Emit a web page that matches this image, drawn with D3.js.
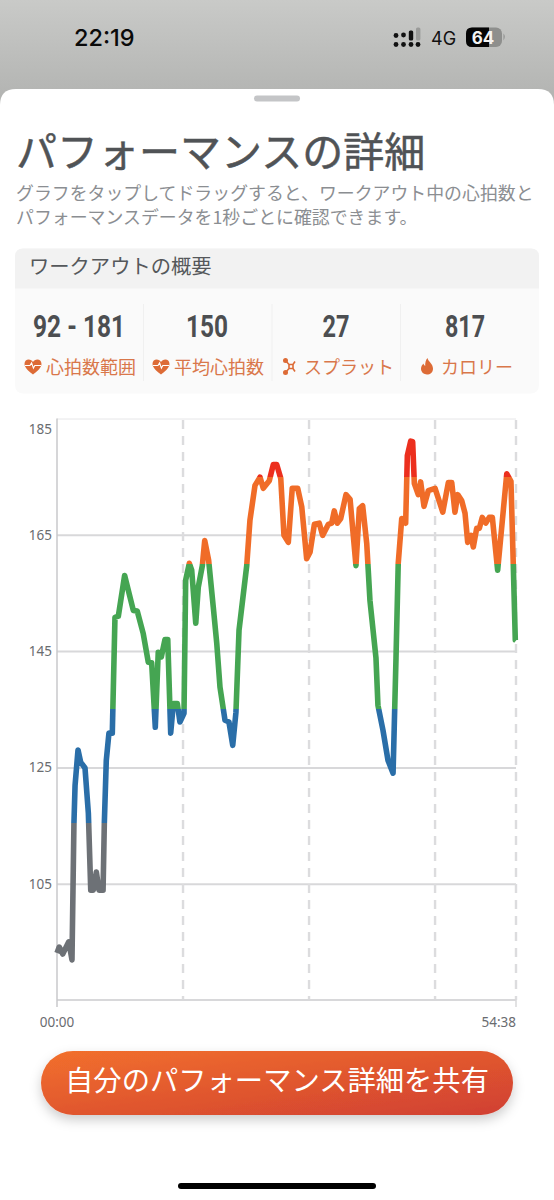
<!DOCTYPE html>
<html lang="ja"><head><meta charset="utf-8">
<script src="https://cdn.jsdelivr.net/npm/d3@7/dist/d3.min.js"></script>
<style>html,body{margin:0;padding:0;background:#fff}svg{display:block}
text{font-family:"Noto Sans CJK JP","Noto Sans",sans-serif}</style></head><body>
<svg id="c" width="554" height="1200" viewBox="0 0 554 1200"></svg>
<script>
// Elapsed time (seconds) and heart rate (bpm)
const seconds=[0,16,41,84,107,121,129,150,169,200,224,241,259,281,300,329,338,352,371,395,414,438,483,545,573,616,652,676,702,723,745,771,791,812,831,859,878,907,919,945,962,991,1009,1038,1055,1083,1116,1141,1164,1200,1228,1255,1278,1300,1355,1378,1414,1450,1473,1516,1545,1569,1598,1621,1652,1680,1719,1748,1783,1807,1838,1873,1897,1938,1962,1980,2002,2026,2064,2093,2135,2159,2183,2212,2235,2278,2292,2328,2364,2400,2421,2437,2462,2490,2502,2526,2540,2552,2580,2597,2621,2652,2700,2755,2795,2819,2842,2862,2890,2914,2933,2957,2973,2997,3016,3037,3062,3087,3109,3147,3212,3242,3259,3273,3278];
const bpm=[93.1,94.1,92.9,95,91.9,115.4,121.9,128,125.9,124.9,117.1,103.9,103.9,107,103.9,103.9,115.4,126.2,130.9,130.9,150.8,151,158,152,151.9,148,143.1,143,131.9,144.8,144,147,147,130.9,136,136,132.8,134.3,157.2,160.1,158.9,149.8,156,159.7,164,160.6,152.6,146.3,138.8,133.1,132.8,128.8,134.5,148.6,159.7,167.5,173.5,174.9,173,174.3,177.1,177.1,174.7,164.9,163.7,173,173,169.8,160.9,162,166.8,167,164.9,166.8,167,169.1,167,167.8,171.9,171.1,159.7,169.5,170,163.5,153.7,143.8,135.7,131.4,126.2,124,143.8,160.1,167.8,167,178.6,181.1,181,173.8,171.9,174.1,169.9,172.6,173,168.9,174,174,168.9,171.9,170.9,168.7,163.7,164.9,162.9,166.1,166.1,168,167,168,168,158.9,175.5,174.2,159.5,146.9,146.8];
const yTicks=[105,125,145,165,185];
const dashedSeconds=[900,1800,2700,3278];
const xLabels=["00:00","54:38"];
const zoneLimits=[115.5,135,160,175];
const zoneColors=["#6d7176","#2a6ea8","#45a552","#f06c28","#ec2f1e"];
const totalSeconds=3278;

const summaryValues=["92 - 181","150","27","817"];
const summaryLabels=["心拍数範囲","平均心拍数","スプラット","カロリー"];

const svg=d3.select("#c");
const defs=svg.append("defs");

// backdrop
const bg=defs.append("linearGradient").attr("id","bg").attr("x1",0).attr("x2",0).attr("y1",0).attr("y2",1);
bg.append("stop").attr("offset",0).attr("stop-color","#c9cac8");
bg.append("stop").attr("offset",1).attr("stop-color","#b0b1af");
svg.append("rect").attr("width",554).attr("height",110).attr("fill","url(#bg)");
svg.append("path").attr("d","M0 1200V105Q0 89 16 89H538Q554 89 554 105V1200Z").attr("fill","#fff");
svg.append("rect").attr("x",254).attr("y",95.5).attr("width",46).attr("height",6).attr("rx",3).attr("fill","#c4c5c7");

// status bar
svg.append("text").attr("x",74).attr("y",45.5).attr("font-size",23.5).attr("font-weight",500).attr("fill","#0a0a0a").style("font-family","Inter,Roboto,sans-serif").text("22:19");
[[396,35.5],[396,44.5],[403.5,35],[403.5,44.5],[411,44.5],[418,44.5]].forEach(p=>svg.append("circle").attr("cx",p[0]).attr("cy",p[1]).attr("r",2.4).attr("fill","#111"));
svg.append("rect").attr("x",408.8).attr("y",30.5).attr("width",4.4).attr("height",10).attr("rx",1.6).attr("fill","#111");
svg.append("rect").attr("x",416).attr("y",27.5).attr("width",4.4).attr("height",13).attr("rx",1.6).attr("fill","#9a9b99");
svg.append("text").attr("x",431).attr("y",44.5).attr("font-size",18).attr("fill","#111").style("font-family","Inter,Roboto,sans-serif").text("4G");
svg.append("rect").attr("x",466).attr("y",27.5).attr("width",36).attr("height",19.5).attr("rx",6).attr("fill","#8e8f8d");
svg.append("path").attr("d","M472 27.5H489V47H472Q466 47 466 41V33.5Q466 27.5 472 27.5Z").attr("fill","#050505");
svg.append("path").attr("d","M503.5 33.5Q506 36.5 503.5 40.5Z").attr("fill","#8e8f8d");
svg.append("text").attr("x",483).attr("y",43.5).attr("text-anchor","middle").attr("font-size",17).attr("font-weight",700).attr("fill","#f3f3f3").style("font-family","Inter,Roboto,sans-serif").text("64");

// heading
svg.append("text").attr("x",16).attr("y",167).attr("font-size",41).attr("fill","#505356").attr("stroke","#505356").attr("stroke-width",0.5).text("パフォーマンスの詳細");
svg.append("text").attr("x",16).attr("y",199.5).attr("font-size",17.9).attr("fill","#8b8e92").text("グラフをタップしてドラッグすると、ワークアウト中の心拍数と");
svg.append("text").attr("x",16).attr("y",223.5).attr("font-size",17.9).attr("fill","#8b8e92").text("パフォーマンスデータを1秒ごとに確認できます。");

// summary card
svg.append("rect").attr("x",15).attr("y",248.5).attr("width",524).attr("height",145).attr("rx",8).attr("fill","#fafafa");
svg.append("path").attr("d","M15 288.5V256.5Q15 248.5 23 248.5H531Q539 248.5 539 256.5V288.5Z").attr("fill","#f2f2f2");
svg.append("text").attr("x",29).attr("y",274).attr("font-size",20.3).attr("fill","#55585b").text("ワークアウトの概要");
const centers=[79,207,336,465], numW=[92,42,27,40], labelX=[46,174,304,441], iconX=[33,161,291,427];
[143.5,272,400.5].forEach(x=>svg.append("line").attr("x1",x).attr("x2",x).attr("y1",304).attr("y2",381).attr("stroke","#f0f0f0").attr("stroke-width",1));
summaryValues.forEach((v,i)=>{
  svg.append("text").attr("x",centers[i]-numW[i]/2).attr("y",337).attr("font-size",32).attr("font-weight",700)
    .attr("fill","#4c4e51").style("font-family","Roboto,sans-serif")
    .attr("textLength",numW[i]).attr("lengthAdjust","spacingAndGlyphs").text(v);
  svg.append("text").attr("x",labelX[i]).attr("y",373.5).attr("font-size",18).attr("fill","#d9774a").text(summaryLabels[i]);
});
const iconC="#dd6b36";
iconX.slice(0,2).forEach(x=>{
  const g=svg.append("g").attr("transform",`translate(${x},366.5)`);
  g.append("path").attr("d","M0 8C-3 5.5-8.5 1.5-8.5-2.6C-8.5-5.5-6.5-7-4.4-7C-2.4-7-.9-5.8 0-4.5C.9-5.8 2.4-7 4.4-7C6.5-7 8.5-5.5 8.5-2.6C8.5 1.5 3 5.5 0 8Z").attr("fill",iconC);
  g.append("path").attr("d","M-8 -1H-3L-1.4-3.6L.4 1.6L1.8-1H8").attr("fill","none").attr("stroke","#fff").attr("stroke-width",1.1);
});
const sp=svg.append("g").attr("transform","translate(291,366.5)").attr("stroke",iconC).attr("fill","none").attr("stroke-width",1.6);
sp.append("path").attr("d","M-5-5.5L-2-2L2-2L4-5M-5 5.5L-2 2L2 2L4 5M-2-2L-2 2M2-2L2 2");
[[-5.5,-6],[-5.5,6]].forEach(p=>sp.append("circle").attr("cx",p[0]).attr("cy",p[1]).attr("r",1.7).attr("fill",iconC));
svg.append("path").attr("transform","translate(427,366.5)").attr("d","M.5-8.5C1-5 6-3 6 2.2C6 5.8 3.2 8 0 8C-3.2 8-6 5.8-6 2.3C-6-.3-4.5-1.8-3.5-3C-3.2-1.6-2.6-.9-1.8-.6C-2-3.6-1.2-6.6.5-8.5Z").attr("fill",iconC);

// chart
const x=d3.scaleLinear().domain([0,totalSeconds]).range([57,516]);
const y=d3.scaleLinear().domain([85,185]).range([1000,418.5]);
const axisC="#d8d8da";
const yAxis=svg.append("g").attr("transform","translate(57,0)")
  .call(d3.axisLeft(y).tickValues(yTicks).tickSize(-459).tickPadding(5).tickFormat(d3.format("d")));
yAxis.select(".domain").remove();
yAxis.selectAll("line").attr("stroke",axisC).attr("stroke-width",2);
yAxis.selectAll("text").attr("fill","#6a6c70").attr("font-size",13.5).attr("dy","0.32em").style("font-family","'Noto Sans',sans-serif");
yAxis.selectAll(".tick").filter(d=>d===185).select("line").attr("stroke-width",1).attr("stroke","#e6e6e8");
yAxis.selectAll(".tick").filter(d=>d===185).select("text").attr("y",10.5);
dashedSeconds.forEach(s=>svg.append("line").attr("x1",x(s)).attr("x2",x(s)).attr("y1",420).attr("y2",1000)
  .attr("stroke","#dcdcde").attr("stroke-width",2.4).attr("stroke-dasharray","9 7"));
svg.append("line").attr("x1",57).attr("x2",516).attr("y1",y(85)).attr("y2",y(85)).attr("stroke",axisC).attr("stroke-width",2);
svg.append("line").attr("x1",57).attr("x2",57).attr("y1",418.5).attr("y2",1007).attr("stroke","#c9c9cb").attr("stroke-width",1.5);
svg.append("line").attr("x1",516).attr("x2",516).attr("y1",1000).attr("y2",1007).attr("stroke",axisC).attr("stroke-width",1.5);
svg.append("text").attr("x",57).attr("y",1026.5).attr("text-anchor","middle").attr("font-size",13.5).attr("fill","#6a6c70").style("font-family","'Noto Sans',sans-serif").text(xLabels[0]);
svg.append("text").attr("x",516).attr("y",1026.5).attr("text-anchor","end").attr("font-size",13.5).attr("fill","#6a6c70").style("font-family","'Noto Sans',sans-serif").text(xLabels[1]);

// zone colouring via a hard-stop gradient in user space
const zg=defs.append("linearGradient").attr("id","zones").attr("gradientUnits","userSpaceOnUse")
  .attr("x1",0).attr("x2",0).attr("y1",y(85)).attr("y2",y(185));
const span=d=>(d-85)/100;
zoneColors.forEach((c,i)=>{
  const lo=i==0?0:span(zoneLimits[i-1]), hi=i==zoneLimits.length?1:span(zoneLimits[i]);
  zg.append("stop").attr("offset",lo).attr("stop-color",c);
  zg.append("stop").attr("offset",hi).attr("stop-color",c);
});
const line=d3.line().x((d,i)=>x(seconds[i])).y(d=>y(d));
svg.append("path").datum(bpm).attr("d",line).attr("fill","none").attr("stroke","url(#zones)")
  .attr("stroke-width",5.6).attr("stroke-linejoin","round").attr("stroke-linecap","butt");

// share button
const bt=defs.append("linearGradient").attr("id","btn").attr("x1",0).attr("y1",0).attr("x2",1).attr("y2",1);
bt.append("stop").attr("offset",0).attr("stop-color","#f2702c");
bt.append("stop").attr("offset",1).attr("stop-color","#d03f31");
const sh=defs.append("filter").attr("id","sh").attr("x","-10%").attr("y","-30%").attr("width","120%").attr("height","170%");
sh.append("feDropShadow").attr("dx",0).attr("dy",5).attr("stdDeviation",6).attr("flood-color","#000").attr("flood-opacity",.2);
svg.append("rect").attr("x",41).attr("y",1051).attr("width",472).attr("height",64).attr("rx",32).attr("fill","url(#btn)").attr("filter","url(#sh)");
svg.append("text").attr("x",277).attr("y",1091).attr("text-anchor","middle").attr("font-size",28.3).attr("fill","#fff").text("自分のパフォーマンス詳細を共有");
svg.append("rect").attr("x",178).attr("y",1183).attr("width",198).attr("height",6).attr("rx",3).attr("fill","#000");
</script></body></html>
